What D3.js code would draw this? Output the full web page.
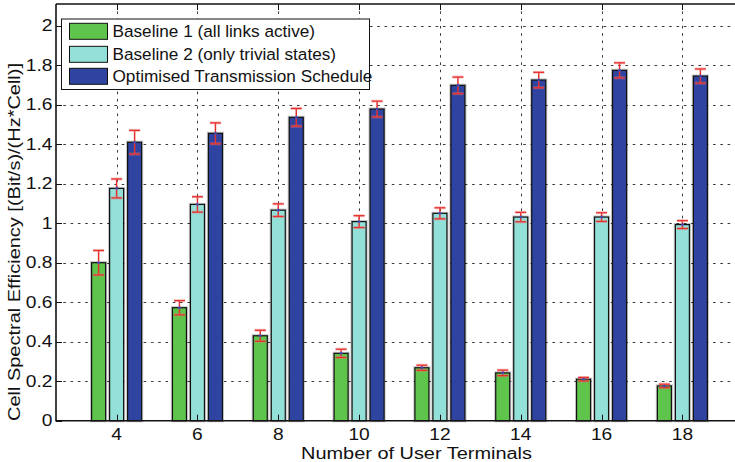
<!DOCTYPE html>
<html>
<head>
<meta charset="utf-8">
<script src="https://cdn.jsdelivr.net/npm/d3@7"></script>
<style>
  html, body { margin: 0; padding: 0; background: #fff; }
  svg { display: block; font-family: "Liberation Sans", Arial, Helvetica, sans-serif; }
</style>
</head>
<body>
<svg id="chart" width="735" height="462"></svg>
<script>
// Number of user terminals per cell (x categories)
const terminals = [4, 6, 8, 10, 12, 14, 16, 18];

// Mean cell spectral efficiency and error half-widths for each scheme
const baseline1    = [0.80, 0.572, 0.430, 0.341, 0.268, 0.242, 0.210, 0.176];
const baseline1Err = [0.062, 0.036, 0.028, 0.021, 0.013, 0.014, 0.009, 0.009];
const baseline2    = [1.176, 1.095, 1.066, 1.008, 1.050, 1.031, 1.031, 0.993];
const baseline2Err = [0.048, 0.039, 0.032, 0.030, 0.028, 0.024, 0.022, 0.020];
const optimised    = [1.410, 1.455, 1.536, 1.578, 1.698, 1.725, 1.774, 1.745];
const optimisedErr = [0.060, 0.053, 0.045, 0.040, 0.042, 0.039, 0.038, 0.036];

const seriesNames = [
  "Baseline 1 (all links active)",
  "Baseline 2 (only trivial states)",
  "Optimised Transmission Schedule"
];
const seriesColors = ["#5fc44b", "#93e0d8", "#2f44a0"];

const yTicks = [0, 0.2, 0.4, 0.6, 0.8, 1, 1.2, 1.4, 1.6, 1.8, 2];
const xTicks = terminals;

const series = [
  { name: seriesNames[0], color: seriesColors[0], values: baseline1, errors: baseline1Err },
  { name: seriesNames[1], color: seriesColors[1], values: baseline2, errors: baseline2Err },
  { name: seriesNames[2], color: seriesColors[2], values: optimised, errors: optimisedErr }
];

const svg = d3.select("#chart");
const TICK_FONT = 16;
const TICK_STRETCH = 1.2;

const plotLeft = 56, plotTop = 4, plotBottom = 420.7;
const x = d3.scaleLinear().domain([2.5, 19.5]).range([plotLeft, 743]);
const y = d3.scaleLinear().domain([0, 2]).range([plotBottom, 25.7]);
const plotRight = 735;

// dotted grid
const grid = svg.append("g").attr("stroke", "#3a3a3a").attr("stroke-width", 1)
  .attr("stroke-dasharray", "2.6,4.7");
grid.selectAll("line.h").data(yTicks.filter(d => d > 0)).join("line")
  .attr("x1", plotLeft).attr("x2", plotRight)
  .attr("y1", d => Math.round(y(d)) + 0.5).attr("y2", d => Math.round(y(d)) + 0.5);
grid.selectAll("line.v").data(xTicks).join("line")
  .attr("x1", d => Math.round(x(d)) + 0.5).attr("x2", d => Math.round(x(d)) + 0.5)
  .attr("y1", plotTop).attr("y2", plotBottom);

// grouped bars
const barW = 14, barStep = 18;
const groups = svg.append("g");
series.forEach((s, si) => {
  const off = (si - 1) * barStep;
  const g = groups.append("g");
  g.selectAll("rect.halo").data(s.values).join("rect")
    .attr("x", (d, i) => x(terminals[i]) + off - barW / 2)
    .attr("y", d => y(d))
    .attr("width", barW)
    .attr("height", d => y(0) - y(d))
    .attr("fill", "none")
    .attr("stroke", "rgba(0,0,0,0.22)")
    .attr("stroke-width", 3.2);
  g.selectAll("rect.bar").data(s.values).join("rect")
    .attr("x", (d, i) => x(terminals[i]) + off - barW / 2)
    .attr("y", d => y(d))
    .attr("width", barW)
    .attr("height", d => y(0) - y(d))
    .attr("fill", s.color)
    .attr("stroke", "#111")
    .attr("stroke-width", 1.2);
});

// error bars
const capW = 11;
series.forEach((s, si) => {
  const off = (si - 1) * barStep;
  const g = svg.append("g");
  s.values.forEach((v, i) => {
    const cx = x(terminals[i]) + off;
    const lo = y(v - s.errors[i]), hi = y(v + s.errors[i]);
    g.append("line").attr("x1", cx).attr("x2", cx).attr("y1", hi).attr("y2", lo)
      .attr("stroke", "#e5302e").attr("stroke-width", 1.5);
    [hi, lo].forEach(yy => {
      g.append("line").attr("x1", cx - capW / 2).attr("x2", cx + capW / 2)
        .attr("y1", yy).attr("y2", yy)
        .attr("stroke", "rgba(240,120,120,0.45)").attr("stroke-width", 3);
      g.append("line").attr("x1", cx - capW / 2).attr("x2", cx + capW / 2)
        .attr("y1", yy).attr("y2", yy)
        .attr("stroke", "#e5302e").attr("stroke-width", 1.3);
    });
    g.append("circle").attr("cx", cx).attr("cy", y(v)).attr("r", 1.3).attr("fill", "#3a4cc0");
  });
});

// axes frame
const frame = svg.append("g").attr("stroke", "#111").attr("stroke-width", 1.6);
frame.append("line").attr("x1", plotLeft).attr("x2", plotLeft).attr("y1", plotTop).attr("y2", plotBottom + 0.8);
frame.append("line").attr("x1", plotLeft).attr("x2", plotRight).attr("y1", plotBottom).attr("y2", plotBottom);
frame.append("line").attr("x1", plotLeft).attr("x2", plotRight).attr("y1", plotTop).attr("y2", plotTop);

// inward tick marks
const tickLen = 6;
const ticks = svg.append("g").attr("stroke", "#111").attr("stroke-width", 1);
ticks.selectAll("line.y").data(yTicks).join("line")
  .attr("x1", plotLeft).attr("x2", plotLeft + tickLen)
  .attr("y1", d => Math.round(y(d)) + 0.5).attr("y2", d => Math.round(y(d)) + 0.5);
ticks.selectAll("line.xb").data(xTicks).join("line")
  .attr("x1", d => Math.round(x(d)) + 0.5).attr("x2", d => Math.round(x(d)) + 0.5)
  .attr("y1", plotBottom).attr("y2", plotBottom - tickLen);
ticks.selectAll("line.xt").data(xTicks).join("line")
  .attr("x1", d => Math.round(x(d)) + 0.5).attr("x2", d => Math.round(x(d)) + 0.5)
  .attr("y1", plotTop).attr("y2", plotTop + tickLen);

// tick labels (slightly wide lettering)
const fmt = d => (d === Math.round(d) ? String(d) : d.toFixed(1));
svg.append("g").selectAll("text").data(yTicks).join("text")
  .attr("transform", d => `translate(52.5,${y(d)}) scale(${TICK_STRETCH},1)`)
  .attr("dy", "0.35em")
  .attr("text-anchor", "end").attr("font-size", TICK_FONT).attr("fill", "#111")
  .text(fmt);
svg.append("g").selectAll("text").data(xTicks).join("text")
  .attr("transform", d => `translate(${x(d)},440) scale(${TICK_STRETCH},1)`)
  .attr("text-anchor", "middle").attr("font-size", TICK_FONT).attr("fill", "#111")
  .text(d => d);

// axis titles
svg.append("text").attr("x", 301).attr("y", 458.5)
  .attr("font-size", 16).attr("fill", "#111")
  .attr("textLength", 231).attr("lengthAdjust", "spacingAndGlyphs")
  .text("Number of User Terminals");
svg.append("text")
  .attr("transform", "translate(19.5,421) rotate(-90)")
  .attr("font-size", 16.8).attr("fill", "#111")
  .attr("textLength", 358).attr("lengthAdjust", "spacingAndGlyphs")
  .text("Cell Spectral Efficiency [(Bit/s)/(Hz*Cell)]");

// legend
const legend = svg.append("g");
legend.append("rect").attr("x", 61.5).attr("y", 19).attr("width", 308).attr("height", 70.5)
  .attr("fill", "#fff").attr("stroke", "#111").attr("stroke-width", 1);
const rowY = [23.3, 46.3, 68.3];
series.forEach((s, i) => {
  legend.append("rect").attr("x", 69.5).attr("y", rowY[i]).attr("width", 38).attr("height", 16)
    .attr("fill", s.color).attr("stroke", "#111").attr("stroke-width", 1);
  legend.append("text").attr("x", 112.5).attr("y", rowY[i] + 14)
    .attr("font-size", 17.2).attr("fill", "#111").text(s.name);
});
</script>
</body>
</html>
